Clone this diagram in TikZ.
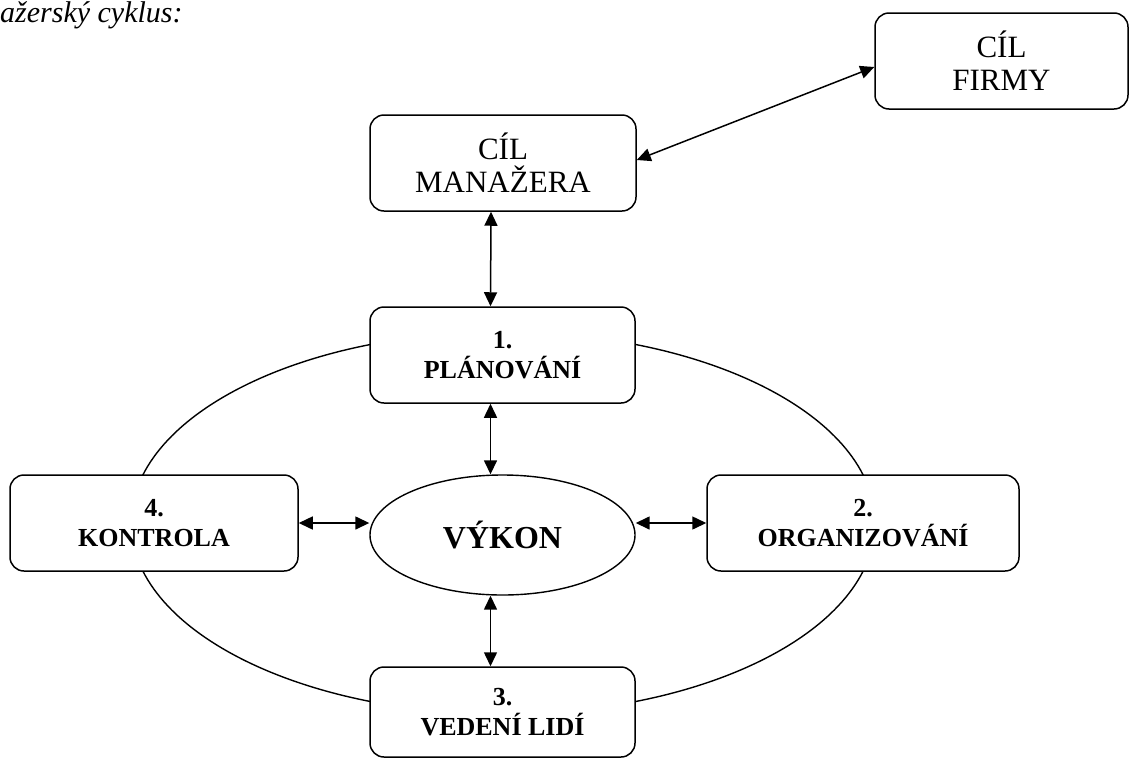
\documentclass[tikz,border=0pt]{standalone}
\usepackage{fontspec}
\setmainfont{Liberation Serif}
\usetikzlibrary{shapes.geometric,arrows.meta,calc}
\tikzset{
  box/.style={draw, line width=1.5pt, rounded corners=14pt, fill=white, align=center, inner sep=0pt},
  goalbox/.style={box, font=\fontsize{31}{33}\selectfont},
  cyclebox/.style={box, font=\fontsize{26}{30}\selectfont\bfseries},
  arr/.style={line width=1.5pt, {Triangle[length=14pt,width=13pt]}-{Triangle[length=14pt,width=13pt]}},
}
\begin{document}
\begin{tikzpicture}[x=1pt,y=-1pt]
\useasboundingbox (0,0) rectangle (1129,758);
% title
\node[anchor=base west, inner sep=0pt, font=\fontsize{30}{32}\selectfont\itshape] (title) at (0,22) {ažerský cyklus:};
% big cycle ellipse
\node[draw, ellipse, line width=1.4pt, minimum width=744pt, minimum height=382pt, inner sep=0pt] (cycle) at (503,523) {};
% boxes
\node[goalbox, minimum width=253pt, minimum height=96pt] (firmy) at (1001.5,61) {CÍL\\FIRMY};
\node[goalbox, minimum width=266pt, minimum height=96pt] (man) at (503,163) {CÍL\\MANAŽERA};
\node[cyclebox, minimum width=265pt, minimum height=96pt] (plan) at (502.5,355) {1.\\PLÁNOVÁNÍ};
\node[cyclebox, minimum width=288pt, minimum height=96pt] (kon) at (154,523) {4.\\KONTROLA};
\node[cyclebox, minimum width=312pt, minimum height=96pt] (org) at (863,523) {2.\\ORGANIZOVÁNÍ};
\node[cyclebox, minimum width=265pt, minimum height=90pt] (ved) at (502.5,712) {3.\\VEDENÍ LIDÍ};
\node[draw, ellipse, line width=1.4pt, minimum width=265pt, minimum height=120pt, inner sep=0pt, font=\fontsize{32}{34}\selectfont\bfseries] (vykon) at (502.5,535) {VÝKON};
% connectors
\draw[arr] ([yshift=3pt]man.east) -- ([yshift=-6pt]firmy.west);
\draw[arr] ([xshift=-12pt]man.south) -- ([xshift=-12pt]plan.north);
\draw[arr] ([xshift=-12pt]plan.south) -- ([xshift=-12pt]plan.south |- vykon.north);
\draw[arr] ([xshift=-12pt]ved.north |- vykon.south) -- ([xshift=-12pt]ved.north);
\draw[arr] (kon.east) -- (kon.east -| vykon.west);
\draw[arr] (org.west -| vykon.east) -- (org.west);
\end{tikzpicture}
\end{document}
